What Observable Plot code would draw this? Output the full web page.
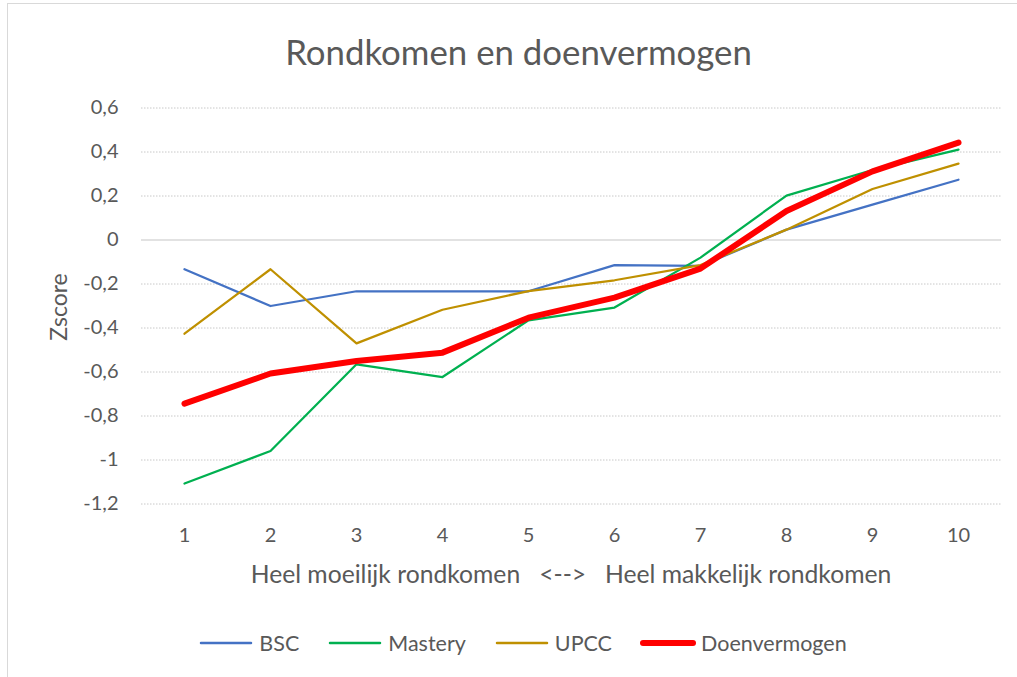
<!DOCTYPE html>
<html>
<head>
<meta charset="utf-8">
<script src="https://cdn.jsdelivr.net/npm/d3@7"></script>
<script src="https://cdn.jsdelivr.net/npm/@observablehq/plot@0.6"></script>
<style>
  html, body { margin: 0; padding: 0; background: #fff; }
  #chart { position: relative; width: 1017px; height: 677px; overflow: hidden; font-family: Lato, "Open Sans", sans-serif; color: #595959; }
  #frame { position: absolute; left: 7px; top: 3px; width: 1100px; height: 800px; border: 1.5px solid #d9d9d9; box-sizing: border-box; }
  #title { position: absolute; left: 0; width: 1037px; top: 30px; text-align: center; font-size: 34.8px; line-height: 44px; }
  #plot { position: absolute; left: 0; top: 0; }
  #ylabel { position: absolute; left: 58px; top: 307px; transform: translate(-50%, -50%) rotate(-90deg); font-size: 23px; white-space: nowrap; }
  #xlabel { position: absolute; left: 0; width: 1142px; top: 560px; text-align: center; font-size: 24.7px; line-height: 28px; white-space: pre; }
  #legend { position: absolute; left: 0; width: 1045px; top: 630px; display: flex; justify-content: center; gap: 28px; font-size: 21.5px; line-height: 26px; }
  .item { display: flex; align-items: center; gap: 5px; }
</style>
</head>
<body>
<div id="chart">
  <div id="frame"></div>
  <div id="plot"></div>
  <div id="title"></div>
  <div id="ylabel"></div>
  <div id="xlabel"></div>
  <div id="legend"></div>
</div>
<script>
const titleText = "Rondkomen en doenvermogen";
const yLabelText = "Zscore";
const xLabelText = "Heel moeilijk rondkomen   <-->   Heel makkelijk rondkomen";
const categories = [1, 2, 3, 4, 5, 6, 7, 8, 9, 10];
const yTicks = [-1.2, -1, -0.8, -0.6, -0.4, -0.2, 0, 0.2, 0.4, 0.6];
const seriesNames = ["BSC", "Mastery", "UPCC", "Doenvermogen"];
const seriesColors = ["#4472C4", "#00B050", "#BF9000", "#FF0000"];
const seriesWidths = [2.25, 2.25, 2.25, 6];
const bsc = [-0.133, -0.300, -0.233, -0.233, -0.233, -0.114, -0.118, 0.047, 0.161, 0.274];
const mastery = [-1.107, -0.959, -0.565, -0.623, -0.365, -0.307, -0.080, 0.202, 0.318, 0.411];
const upcc = [-0.426, -0.133, -0.470, -0.317, -0.232, -0.183, -0.114, 0.047, 0.232, 0.347];
const doenvermogen = [-0.744, -0.607, -0.550, -0.512, -0.353, -0.262, -0.130, 0.132, 0.312, 0.443];

const seriesValues = [bsc, mastery, upcc, doenvermogen];
const fmt = d => (d === 0 ? "0" : String(+d.toFixed(1)).replace(".", ","));

const lineMarks = seriesNames.map((name, i) =>
  Plot.line(categories.map((c, j) => ({x: c, y: seriesValues[i][j]})), {
    x: "x", y: "y", stroke: seriesColors[i], strokeWidth: seriesWidths[i],
    strokeLinecap: "round", strokeLinejoin: "round"
  })
);

const chart = Plot.plot({
  width: 1017,
  height: 560,
  marginLeft: 141,
  marginRight: 16,
  marginTop: 107.5,
  marginBottom: 56.5,
  style: {fontFamily: "Lato, 'Open Sans', sans-serif", fontSize: "20px", color: "#595959", background: "transparent", overflow: "visible"},
  x: {type: "point", domain: categories, padding: 0.5, round: false},
  y: {domain: [-1.2, 0.6]},
  marks: [
    Plot.gridY(yTicks.filter(d => d !== 0), {stroke: "#c8c8c8", strokeOpacity: 1, strokeWidth: 1, strokeDasharray: "1.5,1.5"}),
    Plot.ruleY([0], {stroke: "#d9d9d9", strokeWidth: 1.5}),
    Plot.axisY(yTicks, {tickSize: 0, tickPadding: 23, tickFormat: fmt, label: null, fill: "#595959"}),
    Plot.axisX(categories, {tickSize: 0, tickPadding: 24, label: null, fill: "#595959"}),
    ...lineMarks
  ]
});
document.getElementById("plot").appendChild(chart);

document.getElementById("title").textContent = titleText;
document.getElementById("ylabel").textContent = yLabelText;
document.getElementById("xlabel").textContent = xLabelText;

const legend = document.getElementById("legend");
seriesNames.forEach((name, i) => {
  const item = document.createElement("div");
  item.className = "item";
  item.innerHTML = `<svg width="56" height="10"><line x1="3" y1="5" x2="53" y2="5" stroke="${seriesColors[i]}" stroke-width="${seriesWidths[i] === 6 ? 6 : 2.5}" stroke-linecap="round"/></svg>`;
  const span = document.createElement("span");
  span.textContent = name;
  item.appendChild(span);
  legend.appendChild(item);
});
</script>
</body>
</html>
